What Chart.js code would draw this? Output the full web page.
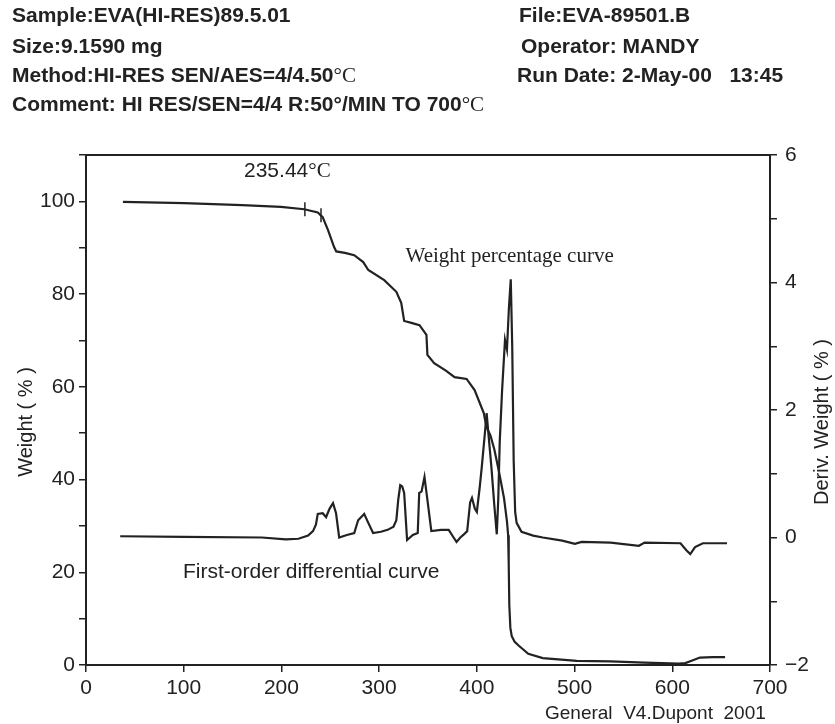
<!DOCTYPE html>
<html>
<head>
<meta charset="utf-8">
<script src="https://cdn.jsdelivr.net/npm/chart.js@4.4.0/dist/chart.umd.min.js"></script>
<style>
  html, body { margin: 0; padding: 0; background: #fff; }
  #wrap { position: relative; width: 835px; height: 724px; overflow: hidden; }
  #chart { position: absolute; left: 0; top: 0; }
  .hd { position: absolute; font: bold 21px "Liberation Sans", Arial, sans-serif; color: #222; line-height: 21px; white-space: pre; }
  .deg { font-family: "Liberation Serif", "Times New Roman", serif; font-weight: normal; }
  #foot { position: absolute; left: 545px; top: 703px; font: 19px "Liberation Sans", Arial, sans-serif; color: #222; line-height: 19px; white-space: pre; }
</style>
</head>
<body>
<div id="wrap">
  <canvas id="chart" width="835" height="724"></canvas>
  <div class="hd" style="left:12px;top:4px">Sample:EVA(HI-RES)89.5.01</div>
  <div class="hd" style="left:12px;top:35px">Size:9.1590 mg</div>
  <div class="hd" style="left:12px;top:64px">Method:HI-RES SEN/AES=4/4.50<span class="deg">°C</span></div>
  <div class="hd" style="left:12px;top:93px">Comment: HI RES/SEN=4/4 R:50°/MIN TO 700<span class="deg">°C</span></div>
  <div class="hd" style="left:519px;top:4px">File:EVA-89501.B</div>
  <div class="hd" style="left:521px;top:35px">Operator: MANDY</div>
  <div class="hd" style="left:517px;top:64px">Run Date: 2-May-00   13:45</div>
  <div id="foot">General  V4.Dupont  2001</div>
</div>
<script>
// weight percentage curve (left axis)
const tempW = [37.8, 100.3, 159.8, 199.5, 223.4, 237.2, 242.2, 247.7, 253.8, 256.1, 265, 274.5, 283.7, 288.9, 305.2, 317.6, 322.6, 325.6, 333, 341.3, 348.4, 349.4, 356.3, 368.3, 377.2, 389.5, 397.7, 407, 409.9, 413.9, 417.9, 422.8, 427.8, 430.8, 432, 432.6, 433.2, 434.3, 435.7, 438.7, 442.7, 452.6, 467.5, 502.2, 537, 571.7, 606.5, 613.4, 618.4, 628.3, 641.2, 654];
const weight = [99.9, 99.6, 99.2, 98.8, 98.3, 97.6, 96.6, 93.8, 90.2, 89.2, 88.9, 88.4, 86.9, 85.2, 83.0, 80.5, 78.1, 74.2, 73.8, 73.3, 71.2, 66.9, 65.1, 63.5, 62.1, 61.7, 59.3, 54.4, 51.3, 49.5, 46.5, 41.5, 36, 31, 28, 22, 13, 8, 6.2, 5.0, 4.2, 2.4, 1.5, 0.9, 0.8, 0.5, 0.3, 0.4, 0.8, 1.6, 1.7, 1.7];

// first-order differential curve (right axis)
const tempD = [35, 100, 180, 204.5, 217.4, 227.3, 232.3, 235.3, 237.2, 242.2, 245.7, 249.2, 252.8, 255.9, 259.1, 267, 274.5, 278.5, 284.7, 288.9, 293.8, 301.8, 308.7, 314.7, 317.6, 319.6, 321.6, 323.6, 325.6, 328.6, 334.5, 339.5, 341, 343.4, 346.4, 349.4, 353.4, 363.3, 371.2, 376.2, 379.2, 383.1, 386.1, 390.1, 393.1, 395, 398, 400, 403, 405, 408, 410, 412, 414.9, 417.9, 420.4, 421.9, 423.4, 425.8, 428.8, 430.8, 432.8, 434.7, 436.2, 437.7, 439.2, 440.7, 445.7, 457.6, 467.5, 487.4, 500.3, 507.2, 537, 565.8, 571.7, 608.4, 614.4, 618.4, 623.3, 631.3, 656];
const deriv = [0.02, 0.01, 0.0, -0.03, -0.02, 0.03, 0.10, 0.20, 0.37, 0.38, 0.32, 0.45, 0.54, 0.38, 0.0, 0.04, 0.07, 0.27, 0.37, 0.23, 0.07, 0.09, 0.12, 0.17, 0.27, 0.6, 0.82, 0.8, 0.70, -0.04, 0.04, 0.07, 0.7, 0.72, 0.95, 0.59, 0.10, 0.12, 0.12, 0.0, -0.07, 0.0, 0.04, 0.1, 0.55, 0.62, 0.45, 0.40, 0.8, 1.1, 1.6, 1.95, 1.6, 1.1, 0.5, 0.05, 0.6, 1.5, 2.3, 3.1, 2.95, 3.6, 4.05, 3.0, 1.2, 0.4, 0.23, 0.09, 0.03, 0.0, -0.05, -0.1, -0.07, -0.08, -0.13, -0.08, -0.09, -0.2, -0.26, -0.15, -0.09, -0.09];

// onset marks on the weight curve
const markT = [224, 240.5];
const markW = [98.3, 97.0];

const INK = '#222';
const SANS = '"Liberation Sans", Arial, sans-serif';
const SERIF = '"Liberation Serif", "Times New Roman", serif';

function pts(xs, ys) {
    return xs.map((x, i) => ({ x: x, y: ys[i] }));
}

// top border, axis titles and the text notes inside the plot
const extras = {
    id: 'extras',
    afterDraw(chart) {
        const { ctx, chartArea: a, scales } = chart;
        const x = scales.x, yl = scales.y;
        ctx.save();
        ctx.strokeStyle = INK;
        ctx.lineWidth = 2;
        ctx.beginPath();
        ctx.moveTo(a.left - 1, a.top);
        ctx.lineTo(a.right + 1, a.top);
        ctx.stroke();

        ctx.fillStyle = INK;
        ctx.textBaseline = 'middle';
        const midY = (a.top + a.bottom) / 2 + 12;

        // both axis titles read bottom-to-top
        ctx.font = '20px ' + SANS;
        ctx.textAlign = 'center';
        ctx.save();
        ctx.translate(26, midY);
        ctx.rotate(-Math.PI / 2);
        ctx.fillText('Weight ( % )', 0, 0);
        ctx.restore();
        ctx.save();
        ctx.translate(822, midY);
        ctx.rotate(-Math.PI / 2);
        ctx.fillText('Deriv. Weight ( % )', 0, 0);
        ctx.restore();

        ctx.textAlign = 'left';
        // onset temperature
        let px = x.getPixelForValue(161.7), py = yl.getPixelForValue(106.5);
        ctx.font = '21px ' + SANS;
        ctx.fillText('235.44', px, py);
        px += ctx.measureText('235.44').width;
        ctx.font = '21px ' + SERIF;
        ctx.fillText('°C', px, py);

        ctx.font = '21px ' + SERIF;
        ctx.fillText('Weight percentage curve', x.getPixelForValue(327), yl.getPixelForValue(88.1));

        ctx.font = '21px ' + SANS;
        ctx.fillText('First-order differential curve', x.getPixelForValue(99.3), yl.getPixelForValue(20.1));
        ctx.restore();
    }
};

const axisGrid = {
    display: true,
    drawOnChartArea: false,
    drawTicks: true,
    tickLength: 7,
    color: INK,
    lineWidth: 1.5
};
const axisBorder = { display: true, color: INK, width: 2 };
const tickFont = { family: SANS, size: 21 };

new Chart(document.getElementById('chart'), {
    type: 'line',
    data: {
        datasets: [
            {
                label: 'Weight',
                data: pts(tempW, weight),
                yAxisID: 'y',
                borderColor: INK,
                borderWidth: 2.2,
                pointRadius: 0,
                tension: 0
            },
            {
                label: 'Deriv. Weight',
                data: pts(tempD, deriv),
                yAxisID: 'y1',
                borderColor: INK,
                borderWidth: 2.2,
                pointRadius: 0,
                tension: 0
            },
            {
                label: 'marks',
                data: pts(markT, markW),
                yAxisID: 'y',
                showLine: false,
                pointStyle: 'line',
                rotation: 90,
                pointRadius: 7,
                borderColor: INK,
                borderWidth: 1.5
            }
        ]
    },
    options: {
        responsive: false,
        animation: false,
        layout: { padding: { left: 0, right: 0, top: 155, bottom: 0 } },
        plugins: {
            legend: { display: false },
            tooltip: { enabled: false }
        },
        scales: {
            x: {
                type: 'linear',
                min: 0,
                max: 700,
                grid: axisGrid,
                border: axisBorder,
                ticks: { stepSize: 100, autoSkip: false, color: INK, font: tickFont, padding: 4, maxRotation: 0 },
                afterFit(scale) { scale.height = 59; }
            },
            y: {
                position: 'left',
                min: 0,
                max: 110,
                grid: axisGrid,
                border: axisBorder,
                ticks: {
                    stepSize: 10,
                    autoSkip: false,
                    color: INK,
                    font: tickFont,
                    padding: 4,
                    callback: v => (v % 20 === 0 ? v : '')
                },
                afterFit(scale) { scale.width = 86; }
            },
            y1: {
                position: 'right',
                min: -2,
                max: 6,
                grid: axisGrid,
                border: axisBorder,
                ticks: {
                    stepSize: 1,
                    autoSkip: false,
                    color: INK,
                    font: tickFont,
                    padding: 8,
                    callback: v => (v % 2 === 0 ? (v < 0 ? '\u2212' + Math.abs(v) : v) : '')
                },
                afterFit(scale) { scale.width = 65; }
            }
        }
    },
    plugins: [extras]
});
</script>
</body>
</html>
